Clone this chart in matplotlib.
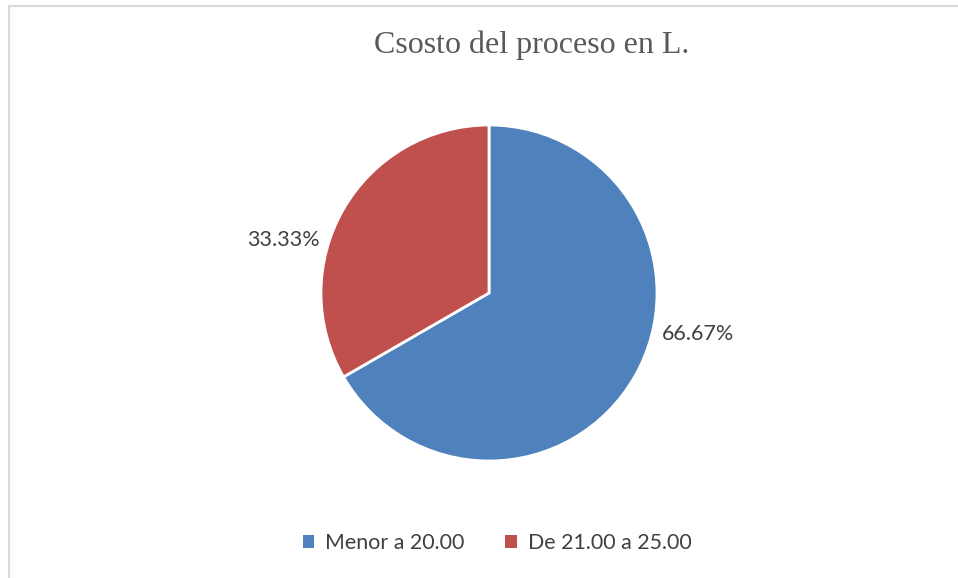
import matplotlib; matplotlib.use("Agg")
import matplotlib.pyplot as plt
from matplotlib.patches import Patch
from matplotlib.lines import Line2D

title = "Csosto del proceso en L."
categories = ["Menor a 20.00", "De 21.00 a 25.00"]
shares = [66.67, 33.33]
colors = ["#4F81BD", "#C0504D"]

W, H = 958, 578
fig = plt.figure(figsize=(W/100, H/100), dpi=100)

# light chart-area border (only top and left show in the crop)
fig.add_artist(Line2D([8.5/W, 8.5/W], [0, 1-5.5/H], color="#d9d9d9", lw=1.5))
fig.add_artist(Line2D([8.5/W, 1], [1-5.5/H, 1-5.5/H], color="#d9d9d9", lw=1.5))

cx, cy, r = 489, 293, 168
ax = fig.add_axes([(cx-r)/W, (H-cy-r)/H, 2*r/W, 2*r/H])
wedges, _ = ax.pie(shares, colors=colors, startangle=90, counterclock=False,
                   radius=1, wedgeprops=dict(edgecolor="white", linewidth=2))
ax.set_xlim(-1, 1); ax.set_ylim(-1, 1)
ax.set_aspect("equal"); ax.axis("off")

# data labels outside the pie
lbl = dict(fontsize=15.5, color="#404040", family=["Lato", "DejaVu Sans"], va="center")
fig.text(698/W, 1-334/H, f"{shares[0]:.2f}%", ha="center", **lbl)
fig.text(283/W, 1-240/H, f"{shares[1]:.2f}%", ha="center", **lbl)

fig.text(532/W, 1-45/H, title, ha="center", va="center", fontsize=23,
         color="#595959", family="Liberation Serif")

handles = [Patch(facecolor=c, edgecolor="none") for c in colors]
fig.legend(handles, categories, loc="center", bbox_to_anchor=(497/W, 1-543/H),
           ncol=2, frameon=False, handlelength=0.55, handleheight=0.55,
           handletextpad=0.5, columnspacing=1.9,
           prop=dict(family=["Lato", "DejaVu Sans"], size=15.4), labelcolor="#404040")

fig.savefig("out.png", dpi=100)
